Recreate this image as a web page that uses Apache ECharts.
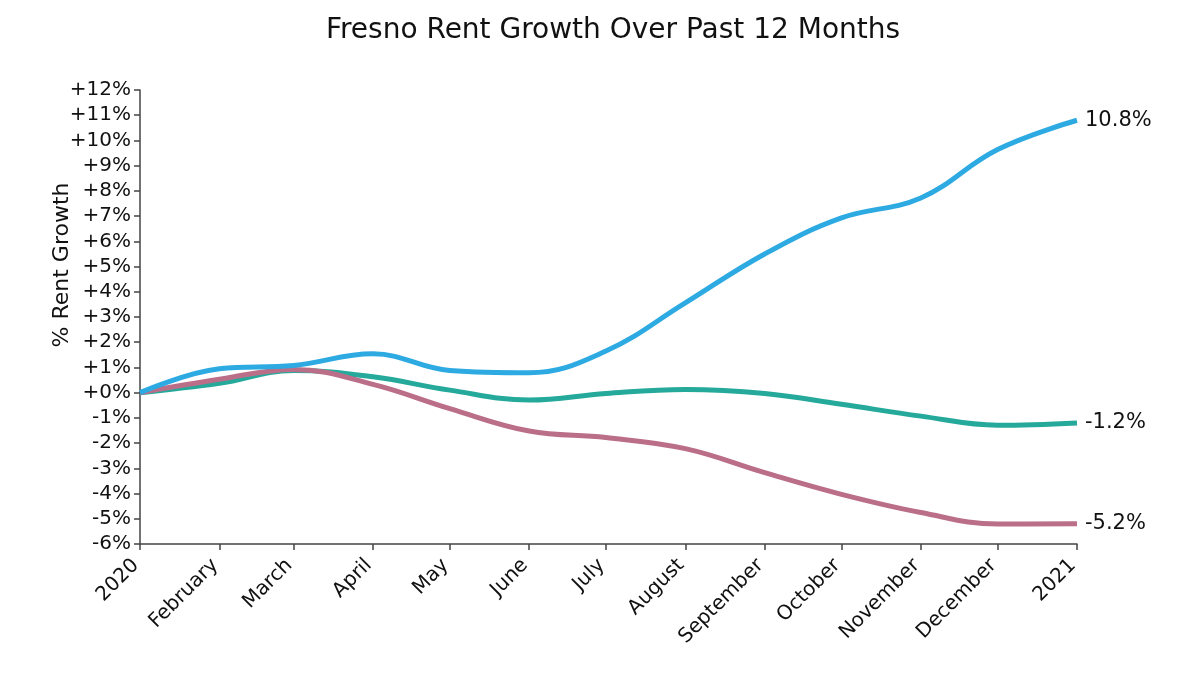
<!DOCTYPE html>
<html>
<head>
<meta charset="utf-8">
<title>Fresno Rent Growth</title>
<script src="https://cdn.jsdelivr.net/npm/echarts@6/dist/echarts.min.js"></script>
<style>
  html, body { margin: 0; padding: 0; background: #fff; }
  #chart { width: 1199px; height: 674px; }
</style>
</head>
<body>
<div id="chart"></div>
<script>
// month start dates (x values)
const dates = ['2020-01-01', '2020-02-01', '2020-03-01', '2020-04-01', '2020-05-01', '2020-06-01',
  '2020-07-01', '2020-08-01', '2020-09-01', '2020-10-01', '2020-11-01', '2020-12-01', '2021-01-01']
// tick labels, indexed by month (0 = year label)
const monthNames = ['', 'February', 'March', 'April', 'May', 'June', 'July',
  'August', 'September', 'October', 'November', 'December']
// rent growth in %
const blueValues = [0, 0.95, 1.08, 1.54, 0.88, 0.79, 1.65, 3.56, 5.5, 6.93, 7.72, 9.64, 10.8]
const tealValues = [0, 0.37, 0.88, 0.63, 0.1, -0.29, -0.03, 0.13, -0.03, -0.46, -0.93, -1.29, -1.2]
const pinkValues = [0, 0.53, 0.92, 0.33, -0.63, -1.52, -1.78, -2.22, -3.17, -4.03, -4.75, -5.21, -5.2]
const endLabels = ['10.8%', '-1.2%', '-5.2%']

const font = 'DejaVu Sans, Liberation Sans, Arial, sans-serif'
const chart = echarts.init(document.getElementById('chart'))

function makeSeries (values, color, label) {
  return {
    type: 'line',
    data: dates.map((d, i) => [d, values[i]]),
    smooth: 0.4,
    showSymbol: false,
    lineStyle: { color: color, width: 5, cap: 'butt' },
    endLabel: {
      show: true,
      formatter: label,
      color: '#111',
      fontSize: 21,
      fontFamily: font,
      distance: 8
    }
  }
}

chart.setOption({
  animation: false,
  backgroundColor: '#fff',
  title: {
    text: 'Fresno Rent Growth Over Past 12 Months',
    left: 608,
    textAlign: 'center',
    top: 12,
    textStyle: { fontSize: 28, fontWeight: 'normal', color: '#111', fontFamily: font }
  },
  graphic: [{
    type: 'text',
    x: 62,
    y: 265,
    rotation: Math.PI / 2,
    style: {
      text: '% Rent Growth',
      fill: '#111',
      font: '22px ' + font,
      align: 'center',
      verticalAlign: 'middle'
    }
  }],
  grid: { left: 140, right: 122, top: 90, bottom: 130 },
  xAxis: {
    type: 'time',
    min: dates[0],
    max: dates[dates.length - 1],
    minInterval: 28 * 24 * 3600 * 1000,
    maxInterval: 31 * 24 * 3600 * 1000,
    splitLine: { show: false },
    axisLine: { onZero: false, lineStyle: { color: '#444', width: 1.5 } },
    axisTick: { show: true, length: 6, lineStyle: { color: '#444', width: 1.5 } },
    axisLabel: {
      rotate: 45,
      color: '#111',
      fontSize: 20,
      fontFamily: font,
      margin: 14,
      padding: [0, 6, 0, 0],
      hideOverlap: false,
      showMinLabel: true,
      showMaxLabel: true,
      formatter: function (value) {
        const d = new Date(value)
        const m = d.getMonth()
        return m === 0 ? String(d.getFullYear()) : monthNames[m]
      }
    }
  },
  yAxis: {
    type: 'value',
    min: -6,
    max: 12,
    interval: 1,
    splitLine: { show: false },
    axisLine: { show: true, lineStyle: { color: '#444', width: 1.5 } },
    axisTick: { show: true, length: 6, lineStyle: { color: '#444', width: 1.5 } },
    axisLabel: {
      color: '#111',
      fontSize: 20,
      fontFamily: font,
      margin: 9,
      formatter: v => (v >= 0 ? '+' : '') + v + '%'
    }
  },
  series: [
    makeSeries(tealValues, '#25a99b', endLabels[1]),
    makeSeries(pinkValues, '#bb6e88', endLabels[2]),
    makeSeries(blueValues, '#2eaae2', endLabels[0])
  ]
})
</script>
</body>
</html>
